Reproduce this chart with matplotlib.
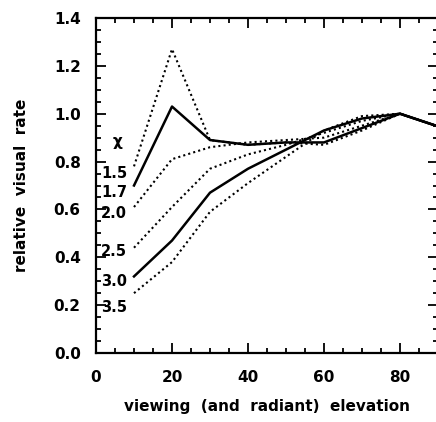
import matplotlib
matplotlib.use("Agg")
from matplotlib import pyplot as plt
from matplotlib.ticker import MultipleLocator

# elevation (deg) and relative visual rate for each population index chi
elevation = [10, 20, 30, 40, 50, 60, 70, 80, 90]
chi_labels = ["1.5", "1.7", "2.0", "2.5", "3.0", "3.5"]
rate_15 = [0.78, 1.27, 0.89, 0.87, 0.88, 0.87, 0.93, 1.00, 0.947]
rate_17 = [0.70, 1.03, 0.89, 0.87, 0.88, 0.88, 0.94, 1.00, 0.947]
rate_20 = [0.61, 0.81, 0.86, 0.88, 0.89, 0.90, 0.95, 1.00, 0.947]
rate_25 = [0.44, 0.61, 0.77, 0.83, 0.87, 0.92, 0.97, 1.00, 0.947]
rate_30 = [0.32, 0.47, 0.67, 0.77, 0.85, 0.93, 0.98, 1.00, 0.947]
rate_35 = [0.25, 0.38, 0.59, 0.71, 0.82, 0.93, 0.99, 1.00, 0.947]
# where the chi labels sit at the left end of the curves
label_y = [0.75, 0.67, 0.585, 0.425, 0.30, 0.19]

dotted = (0, (1, 1.5))
series = [
    (rate_15, dotted, 1.5),
    (rate_17, "-", 1.8),
    (rate_20, dotted, 1.5),
    (rate_25, dotted, 1.5),
    (rate_30, "-", 1.8),
    (rate_35, dotted, 1.5),
]

fig = plt.figure(figsize=(4.36, 4.22), dpi=100)
ax = fig.add_axes([96 / 436, 1 - 353 / 422, 342 / 436, 335 / 422])

for vals, ls, lw in series:
    ax.plot(elevation, vals, color="black", linestyle=ls, linewidth=lw)

for lab, y in zip(chi_labels, label_y):
    ax.text(4.8, y, lab, ha="center", va="center", fontsize=10.5,
            fontweight="bold")
ax.text(5.8, 0.885, "χ", ha="center", va="center", fontsize=11,
        fontweight="bold")

ax.set_xlim(0, 90)
ax.set_ylim(0, 1.4)
ax.xaxis.set_major_locator(MultipleLocator(20))
ax.xaxis.set_minor_locator(MultipleLocator(5))
ax.yaxis.set_major_locator(MultipleLocator(0.2))
ax.yaxis.set_minor_locator(MultipleLocator(0.05))
ax.yaxis.set_major_formatter(plt.FormatStrFormatter("%.1f"))

ax.tick_params(which="both", direction="in", top=True, right=True,
               width=1.3, labelsize=11)
ax.tick_params(axis="x", pad=12)
ax.tick_params(axis="y", pad=11)
ax.tick_params(which="major", length=7)
ax.tick_params(which="minor", length=3.5)
for lab in ax.get_xticklabels() + ax.get_yticklabels():
    lab.set_fontweight("bold")
for sp in ax.spines.values():
    sp.set_linewidth(1.6)

ax.set_xlabel("viewing  (and  radiant)  elevation", fontsize=11,
              fontweight="bold", labelpad=10)
ax.set_ylabel("relative  visual  rate", fontsize=11, fontweight="bold",
              labelpad=18)

fig.savefig("out.png", dpi=100)
